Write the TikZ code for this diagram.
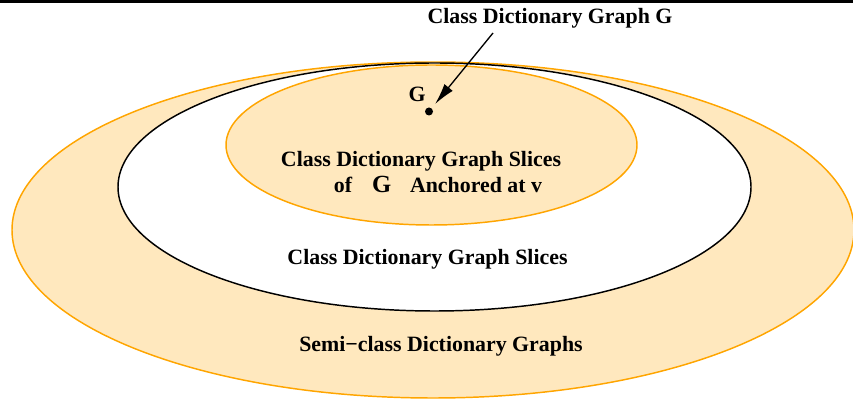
\documentclass[tikz,border=0pt]{standalone}
\usepackage{fontspec}
\setmainfont{Liberation Serif}
\usepackage{tikz}
\usetikzlibrary{arrows.meta,positioning}
\definecolor{setfill}{HTML}{FFE8BE}
\definecolor{setline}{HTML}{FFA500}

\begin{document}
\begin{tikzpicture}[x=0.75pt,y=0.75pt,>={Latex[length=16pt,width=8pt]},
  lbl/.style={font=\bfseries\fontsize{16.4}{19}\selectfont,inner sep=0pt,anchor=base}]
\useasboundingbox (0,0) rectangle (853,403);
\clip (0,0) rectangle (853,403);
\fill[black] (0,400) rectangle (853,403);
\draw[setline,fill=setfill,line width=1.1pt] (433,173) ellipse [x radius=421,y radius=168];
\draw[black,fill=white,line width=1.1pt] (434.5,216) ellipse [x radius=316.5,y radius=124];
\draw[setline,fill=setfill,line width=1.1pt] (431.5,258) ellipse [x radius=205.5,y radius=80];
\node[circle,fill=black,inner sep=0pt,minimum size=6pt] (gdot) at (429,291.5){};
\node[lbl] (glabel) at (417,301){G};
\node[lbl] (cdg) at (550,379){Class Dictionary Graph G};
\coordinate (arrowtail) at (493,370);
\draw[->,line width=1pt,shorten >=4pt] (arrowtail)--(gdot);
\node[lbl] (slicesv) at (421,236){Class Dictionary Graph Slices};
\node[lbl] (anchored) at (438,210){of\hspace{15pt}{\fontsize{18.5}{20}\selectfont G}\hspace{14pt}Anchored at v};
\node[lbl] (slices) at (427.5,138){Class Dictionary Graph Slices};
\node[lbl] (semi) at (441,51){Semi−class Dictionary Graphs};
\end{tikzpicture}
\end{document}
